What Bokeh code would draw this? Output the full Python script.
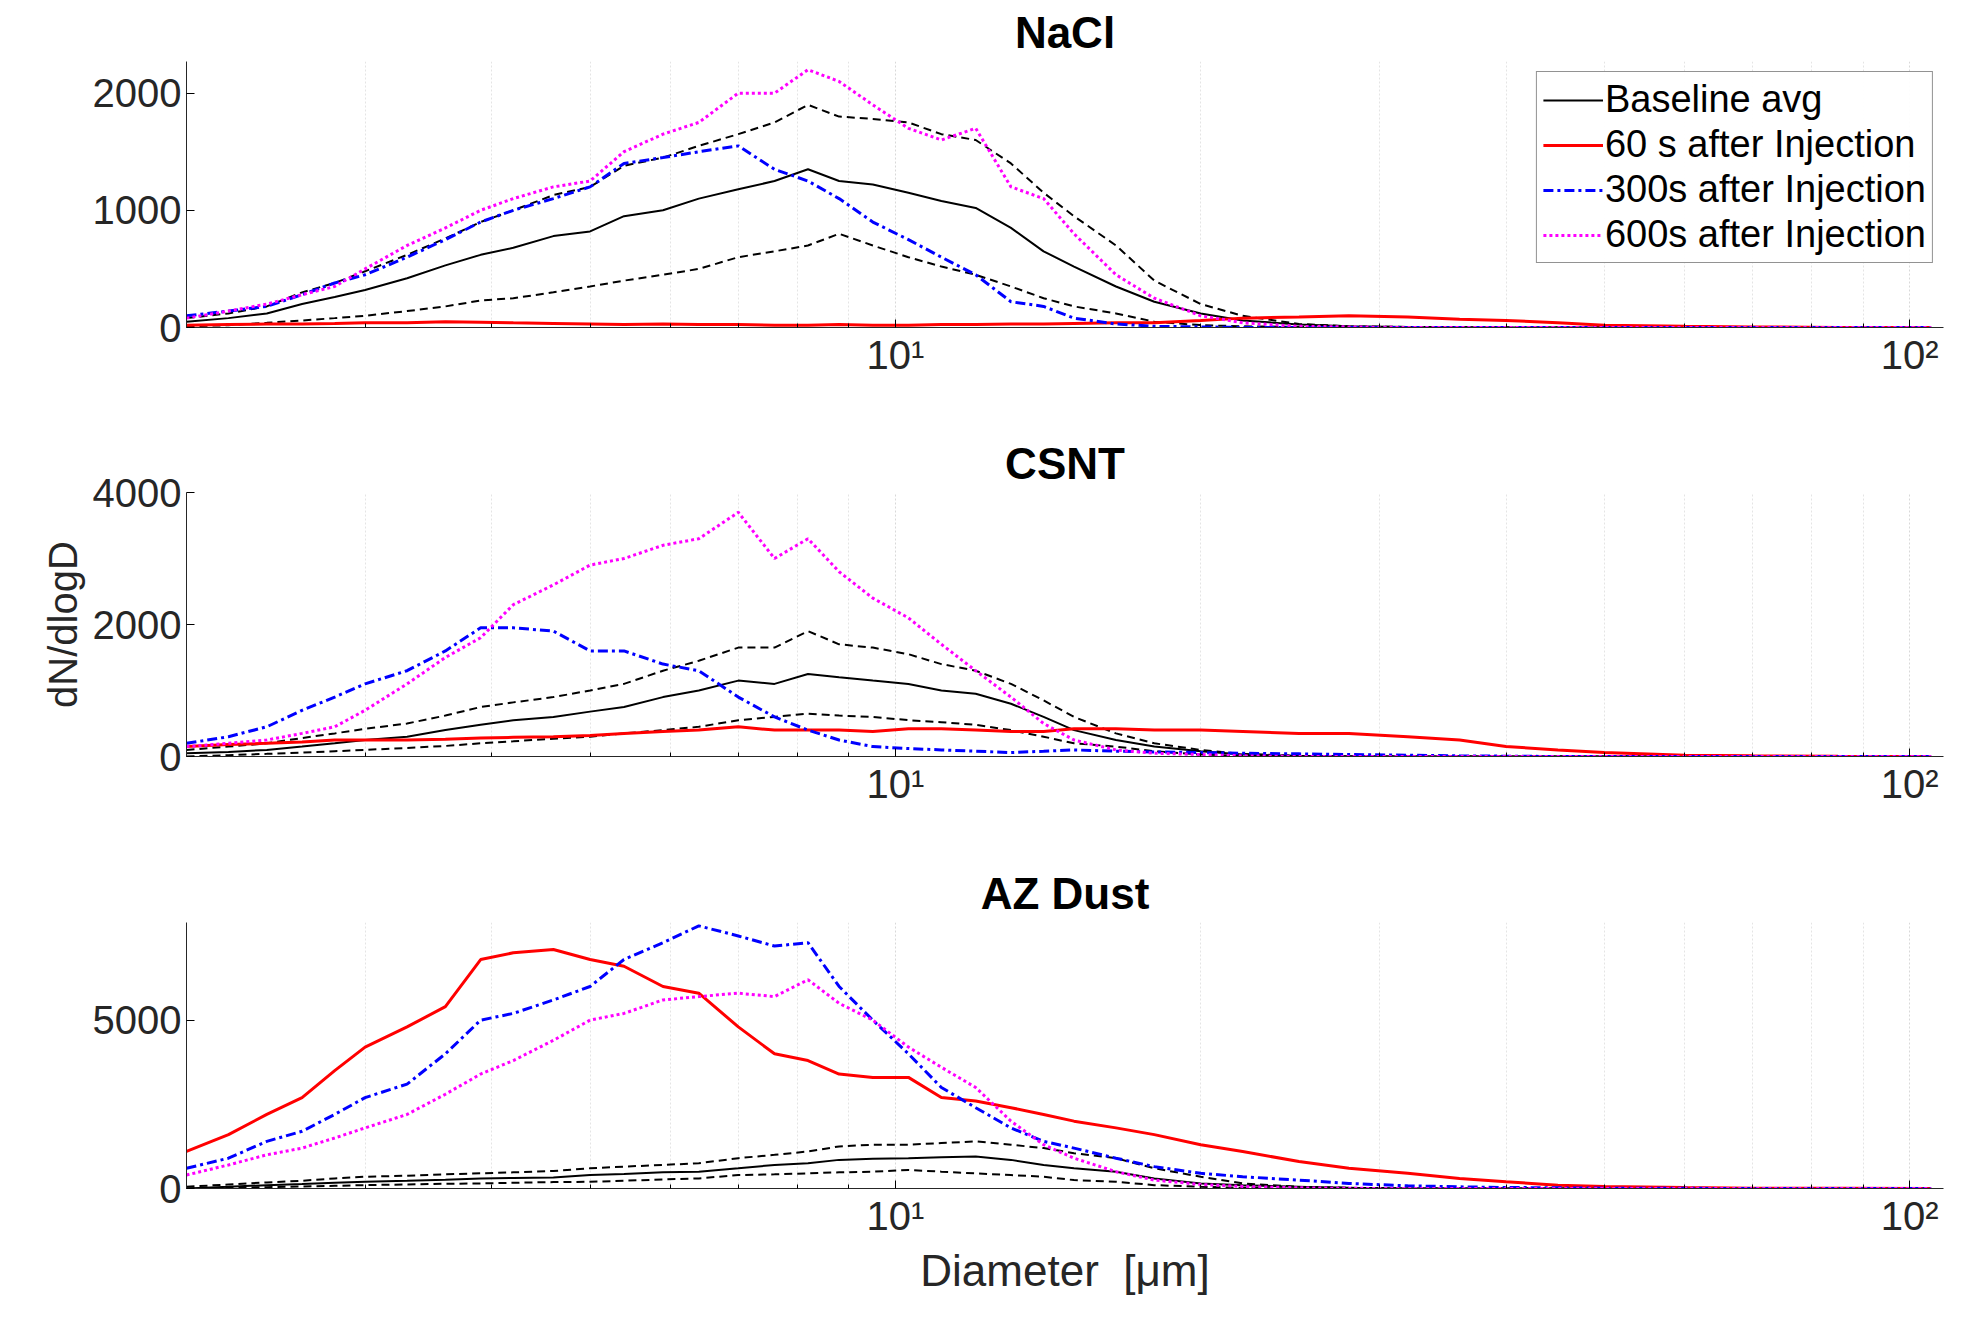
from bokeh.plotting import figure
from bokeh.layouts import column
from bokeh.models import FixedTicker, Range1d, Legend, LegendItem
from bokeh.embed import file_html
from bokeh.resources import INLINE

diam = [2.0, 2.2, 2.4, 2.6, 2.8, 3.0, 3.3, 3.6, 3.9, 4.2, 4.6, 5.0, 5.4, 5.9, 6.4, 7.0, 7.6, 8.2, 8.8, 9.5,
        10.3, 11.1, 12, 13, 14, 15, 16.5, 18, 20, 22, 25, 28, 32, 36, 40, 45, 50, 60, 70, 85, 105]

nacl_base = [50, 80, 120, 200, 260, 320, 420, 530, 620, 680, 780, 820, 950, 1000, 1100, 1180, 1250, 1350, 1250, 1220,
             1150, 1080, 1020, 850, 650, 520, 350, 220, 120, 60, 25, 10, 5, 2, 0, 0, 0, 0, 0, 0, 0]
nacl_hi = [80, 120, 180, 300, 380, 480, 620, 760, 900, 1000, 1130, 1200, 1380, 1450, 1550, 1650, 1750, 1900, 1800, 1780,
           1750, 1650, 1600, 1400, 1150, 950, 700, 400, 200, 100, 30, 10, 5, 0, 0, 0, 0, 0, 0, 0, 0]
nacl_lo = [10, 20, 40, 60, 80, 100, 140, 180, 230, 250, 300, 350, 400, 450, 500, 600, 650, 700, 800, 700,
           600, 520, 450, 350, 250, 180, 120, 50, 20, 10, 5, 0, 0, 0, 0, 0, 0, 0, 0, 0, 0]
nacl_60 = [20, 25, 30, 30, 35, 40, 40, 50, 45, 40, 35, 30, 25, 30, 25, 25, 20, 20, 25, 20,
           20, 25, 25, 30, 30, 35, 40, 40, 60, 80, 90, 100, 90, 70, 60, 40, 20, 10, 5, 0, 0]
nacl_300 = [100, 140, 180, 280, 380, 450, 600, 750, 900, 1000, 1100, 1200, 1400, 1450, 1500, 1550, 1350, 1250, 1100, 900,
            750, 600, 450, 220, 180, 80, 30, 10, 5, 0, 0, 0, 0, 0, 0, 0, 0, 0, 0, 0, 0]
nacl_600 = [80, 140, 200, 280, 350, 500, 700, 850, 1000, 1100, 1200, 1250, 1500, 1650, 1750, 2000, 2000, 2200, 2100, 1900,
            1700, 1600, 1700, 1200, 1100, 800, 450, 250, 100, 40, 10, 5, 0, 0, 0, 0, 0, 0, 0, 0, 0]

csnt_base = [50, 70, 100, 150, 200, 250, 300, 400, 480, 550, 600, 680, 750, 900, 1000, 1150, 1100, 1250, 1200, 1150,
             1100, 1000, 950, 800, 600, 400, 250, 150, 80, 30, 10, 5, 0, 0, 0, 0, 0, 0, 0, 0, 0]
csnt_hi = [100, 150, 200, 280, 350, 420, 500, 620, 750, 820, 900, 1000, 1100, 1300, 1450, 1650, 1650, 1900, 1700, 1650,
           1550, 1400, 1300, 1100, 850, 600, 350, 200, 100, 40, 10, 0, 0, 0, 0, 0, 0, 0, 0, 0, 0]
csnt_lo = [0, 20, 40, 60, 80, 100, 130, 160, 200, 230, 270, 300, 350, 400, 450, 550, 600, 650, 620, 600,
           550, 520, 480, 400, 300, 200, 150, 80, 30, 10, 0, 0, 0, 0, 0, 0, 0, 0, 0, 0, 0]
csnt_60 = [150, 180, 200, 220, 250, 250, 250, 260, 280, 290, 300, 320, 350, 380, 400, 450, 400, 400, 400, 380,
           420, 420, 400, 380, 380, 420, 420, 400, 400, 380, 350, 350, 300, 250, 150, 100, 60, 20, 10, 5, 0]
csnt_300 = [200, 300, 450, 700, 900, 1100, 1300, 1600, 1950, 1950, 1900, 1600, 1600, 1400, 1300, 900, 600, 400, 250, 150,
            120, 100, 80, 60, 80, 100, 80, 70, 60, 50, 40, 30, 20, 10, 5, 0, 0, 0, 0, 0, 0]
csnt_600 = [150, 200, 250, 350, 450, 700, 1100, 1500, 1800, 2300, 2600, 2900, 3000, 3200, 3300, 3700, 3000, 3300, 2800, 2400,
            2100, 1700, 1300, 900, 500, 250, 100, 50, 30, 10, 0, 0, 0, 0, 0, 0, 0, 0, 0, 0, 0]

az_base = [0, 50, 100, 130, 170, 200, 230, 260, 300, 310, 330, 400, 430, 480, 500, 600, 700, 750, 850, 880,
           900, 930, 950, 850, 700, 600, 500, 300, 150, 100, 50, 20, 0, 0, 0, 0, 0, 0, 0, 0, 0]
az_hi = [50, 120, 180, 230, 300, 350, 380, 420, 450, 480, 520, 600, 650, 700, 750, 900, 1000, 1100, 1250, 1300,
         1300, 1350, 1400, 1300, 1200, 1050, 900, 600, 350, 150, 50, 20, 0, 0, 0, 0, 0, 0, 0, 0, 0]
az_lo = [0, 20, 40, 60, 80, 100, 120, 140, 150, 170, 190, 200, 230, 270, 300, 400, 420, 450, 480, 500,
         550, 500, 450, 400, 350, 250, 200, 100, 50, 20, 0, 0, 0, 0, 0, 0, 0, 0, 0, 0, 0]
az_60 = [1100, 1600, 2200, 2700, 3500, 4200, 4800, 5400, 6800, 7000, 7100, 6800, 6600, 6000, 5800, 4800, 4000, 3800, 3400, 3300,
         3300, 2700, 2600, 2400, 2200, 2000, 1800, 1600, 1300, 1100, 800, 600, 450, 300, 200, 100, 60, 30, 10, 5, 0]
az_300 = [600, 900, 1400, 1700, 2200, 2700, 3100, 4000, 5000, 5200, 5600, 6000, 6800, 7300, 7800, 7500, 7200, 7300, 6000, 5000,
          4000, 3000, 2400, 1800, 1400, 1200, 900, 650, 450, 350, 250, 150, 80, 50, 30, 20, 10, 5, 0, 0, 0]
az_600 = [400, 700, 1000, 1200, 1500, 1800, 2200, 2800, 3400, 3800, 4400, 5000, 5200, 5600, 5700, 5800, 5700, 6200, 5500, 5000,
          4200, 3600, 3000, 2000, 1300, 900, 500, 250, 120, 60, 20, 5, 0, 0, 0, 0, 0, 0, 0, 0, 0]

panels = [
    ("NaCl", nacl_base, nacl_hi, nacl_lo, nacl_60, nacl_300, nacl_600, 2270, [0, 1000, 2000]),
    ("CSNT", csnt_base, csnt_hi, csnt_lo, csnt_60, csnt_300, csnt_600, 4000, [0, 2000, 4000]),
    ("AZ Dust", az_base, az_hi, az_lo, az_60, az_300, az_600, 7900, [0, 5000]),
]

FONT = "Liberation Sans"
minor = [2, 3, 4, 5, 6, 7, 8, 9, 20, 30, 40, 50, 60, 70, 80, 90]
heights = [431, 430, 472]
bottoms = [104, 105, 145]
figs = []
for i, (name, base, hi, lo, s60, s300, s600, ymax, yt) in enumerate(panels):
    last = i == 2
    p = figure(width=1955, height=heights[i], x_axis_type="log",
               x_range=Range1d(2.0, 108), y_range=Range1d(0, ymax),
               output_backend="svg", toolbar_location=None,
               min_border_left=186, min_border_right=12, min_border_top=10,
               min_border_bottom=bottoms[i])
    p.title.text = name
    p.title.align = "center"
    p.title.text_font = FONT
    p.title.text_font_size = "44px"
    p.title.text_font_style = "bold"
    p.title.text_color = "black"
    p.outline_line_color = None
    p.ygrid.grid_line_color = None
    p.xgrid.grid_line_color = "#d8d8d8"
    p.xgrid.grid_line_dash = "2 2"
    p.xgrid.minor_grid_line_color = "#e4e4e4"
    p.xgrid.minor_grid_line_dash = "2 2"
    p.xaxis.ticker = FixedTicker(ticks=[10, 100], minor_ticks=minor)
    p.xaxis.major_label_overrides = {10: "10¹", 100: "10²"}
    p.yaxis.ticker = FixedTicker(ticks=yt)
    for ax in (p.xaxis, p.yaxis):
        ax.major_label_text_font = FONT
        ax.major_label_text_font_size = "40px"
        ax.major_label_text_color = "#262626"
        ax.axis_line_color = "#262626"
        ax.major_tick_in = 8
        ax.major_tick_out = 0
        ax.minor_tick_in = 4
        ax.minor_tick_out = 0
    p.yaxis.minor_tick_line_color = None
    if i == 1:
        p.yaxis.axis_label = "dN/dlogD"
        p.yaxis.axis_label_text_font = FONT
        p.yaxis.axis_label_text_font_size = "40px"
        p.yaxis.axis_label_text_font_style = "normal"
        p.yaxis.axis_label_text_color = "#262626"
    if last:
        p.xaxis.axis_label = "Diameter\u00a0\u00a0[μm]"
        p.xaxis.axis_label_text_font = FONT
        p.xaxis.axis_label_text_font_size = "44px"
        p.xaxis.axis_label_text_font_style = "normal"
        p.xaxis.axis_label_text_color = "#262626"

    r_base = p.line(diam, base, color="black", line_width=2)
    p.line(diam, hi, color="black", line_width=2, line_dash="8 5")
    p.line(diam, lo, color="black", line_width=2, line_dash="8 5")
    r60 = p.line(diam, s60, color="#ff0000", line_width=3)
    r300 = p.line(diam, s300, color="#0000ff", line_width=3, line_dash="10 4 3 4")
    r600 = p.line(diam, s600, color="#ff00ff", line_width=3, line_dash="3 3")
    if i == 0:
        leg = Legend(items=[
            LegendItem(label="Baseline avg", renderers=[r_base]),
            LegendItem(label="60 s after Injection", renderers=[r60]),
            LegendItem(label="300s after Injection", renderers=[r300]),
            LegendItem(label="600s after Injection", renderers=[r600]),
        ], location="top_right")
        leg.label_text_font = FONT
        leg.label_text_font_size = "38px"
        leg.label_text_color = "black"
        leg.border_line_color = "#262626"
        leg.glyph_width = 60
        leg.spacing = 2
        leg.padding = 6
        leg.label_standoff = 2
        p.add_layout(leg, "center")
    figs.append(p)

page = column(*figs, spacing=0)
open("out.html", "w").write(file_html(page, INLINE))
